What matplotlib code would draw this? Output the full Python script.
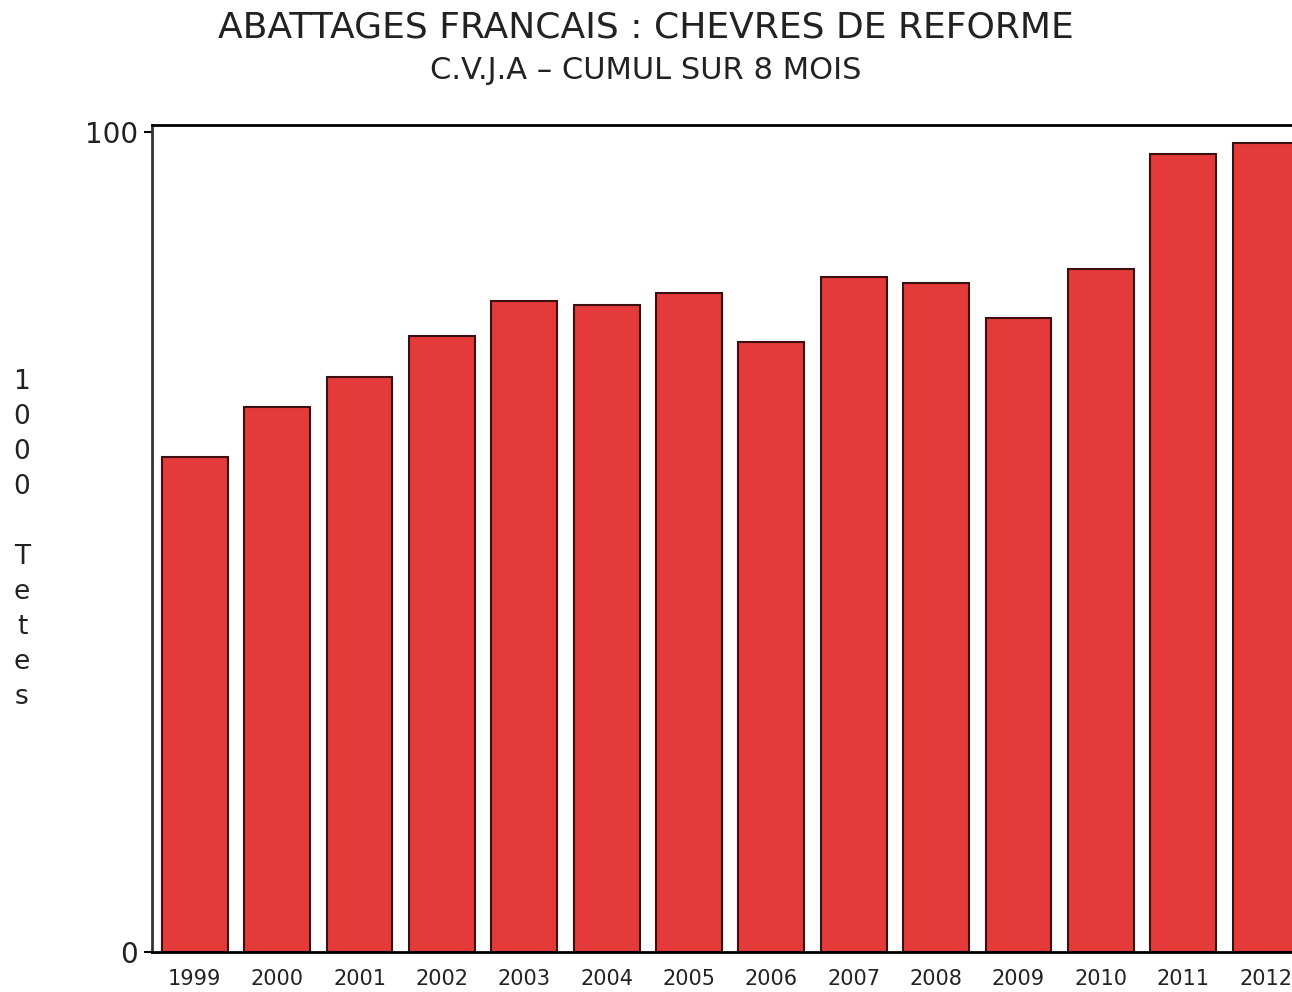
import matplotlib
matplotlib.use("Agg")
import matplotlib.pyplot as plt

years = ["1999", "2000", "2001", "2002", "2003", "2004", "2005", "2006",
         "2007", "2008", "2009", "2010", "2011", "2012"]
values = [60.4, 66.5, 70.2, 75.2, 79.4, 78.9, 80.4, 74.4, 82.3, 81.6, 77.4, 83.3, 97.4, 98.7]
yticks = [0, 100]

plt.rcParams['font.family'] = ['DejaVu Sans']

fig = plt.figure(figsize=(12.92, 9.92), dpi=100)
ax = fig.add_axes([0.1176, 0.0403, 0.8824, 0.8337])

x = list(range(len(years)))
ax.bar(x, values, width=0.8, color="#e53a3a", edgecolor="#3a1010", linewidth=1.5)

ax.set_xlim(-0.52, 13.32)
ax.set_ylim(0, 100.9)
ax.set_yticks(yticks)
ax.set_yticklabels([str(v) for v in yticks], fontsize=20, color="#222222")
ax.set_xticks(x)
ax.set_xticklabels(years, fontsize=15, color="#222222")
ax.tick_params(axis='x', length=0, pad=12)
ax.tick_params(axis='y', length=6, width=1.5, pad=4)

ax.spines['right'].set_visible(False)
for s in ['left', 'bottom', 'top']:
    ax.spines[s].set_linewidth(2)
ax.spines['left'].set_color("#333333")
ax.spines['top'].set_color("black")
ax.spines['bottom'].set_color("black")

fig.text(0.5, 0.972, "ABATTAGES FRANCAIS : CHEVRES DE REFORME", ha='center', va='center',
         fontsize=26, color="#222222")
fig.text(0.5, 0.929, "C.V.J.A \u2013 CUMUL SUR 8 MOIS", ha='center', va='center',
         fontsize=22, color="#222222")

fig.text(0.017, 0.456, "1\n0\n0\n0\n\nT\ne\nt\ne\ns", ha='center', va='center',
         fontsize=19, color="#222222", linespacing=1.45)

fig.savefig("out.png", dpi=100)
